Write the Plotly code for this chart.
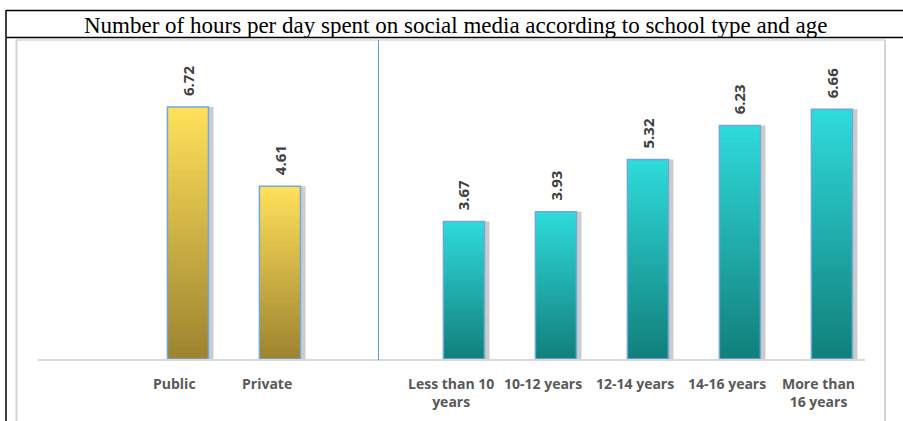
import plotly.graph_objects as go

title = "Number of hours per day spent on social media according to school type and age"
categories = ["Public", "Private", " ", "Less than 10<br>years", "10-12 years",
              "12-14 years", "14-16 years", "More than<br>16 years"]
values = [6.72, 4.61, None, 3.67, 3.93, 5.32, 6.23, 6.66]
groups = ["school", "school", None, "age", "age", "age", "age", "age"]

W, H = 903, 421
PL, PR, PT, PB = 38, 865, 40, 359   # plot area in page pixels
L, T = PL, PT
R = W - PR
B = H - PB
PW, PH = PR - PL, PB - PT

def px(x):
    return (x - PL) / PW

def py(y):
    return (PB - y) / PH

top_col = {"school": (255, 224, 90), "age": (46, 218, 218)}
bot_col = {"school": (158, 132, 48), "age": (18, 128, 124)}

def mix(a, b, t):
    return "rgb(%d,%d,%d)" % tuple(round(a[i] + (b[i] - a[i]) * t) for i in range(3))

fig = go.Figure()
bw = 0.446

# shadow
fig.add_trace(go.Bar(x=categories, y=values, width=bw, offset=-bw / 2 + 0.055,
                     marker=dict(color="rgba(100,100,100,0.33)", line=dict(width=0)),
                     hoverinfo="skip", showlegend=False))

N = 40
for k in range(N):
    t = k / (N - 1)
    ys = [None if v is None else v * (N - k) / N for v in values]
    cols = [mix(top_col[g], bot_col[g], t) if g else "white" for g in groups]
    fig.add_trace(go.Bar(x=categories, y=ys, width=bw,
                         marker=dict(color=cols, line=dict(width=0)),
                         hoverinfo="skip", showlegend=False))

fig.add_trace(go.Bar(x=categories, y=values, width=bw,
                     marker=dict(color="rgba(0,0,0,0)", line=dict(color="#6FA8DC", width=1.5)),
                     showlegend=False))

for c, v in zip(categories, values):
    if v is None:
        continue
    fig.add_annotation(x=c, y=v, text="<b>%.2f</b>" % v, showarrow=False, textangle=-90,
                       yanchor="bottom", xanchor="center", yshift=9,
                       font=dict(family="Open Sans", size=15, color="#404040"))
    # category labels (sit slightly left of bar centres, as in the original)
    fig.add_annotation(x=c, y=0, text="<b>%s</b>" % c, showarrow=False, align="center",
                       yanchor="top", xanchor="center", yshift=-13, xshift=-13,
                       font=dict(family="Open Sans", size=14, color="#595959"))

fig.add_annotation(x=px(455), y=py(25), xref="paper", yref="paper", text=title,
                   showarrow=False, xanchor="center", yanchor="middle",
                   font=dict(family="Liberation Serif", size=23, color="black"))

shapes = [
    dict(type="line", xref="paper", yref="paper", x0=px(6), x1=px(905), y0=py(10.5), y1=py(10.5),
         line=dict(color="black", width=1.5)),
    dict(type="line", xref="paper", yref="paper", x0=px(6), x1=px(905), y0=py(37.5), y1=py(37.5),
         line=dict(color="black", width=1.5)),
    dict(type="line", xref="paper", yref="paper", x0=px(6), x1=px(6), y0=py(10), y1=py(425),
         line=dict(color="black", width=1.5)),
    dict(type="line", xref="paper", yref="paper", x0=px(16.5), x1=px(16.5), y0=py(40), y1=py(425),
         line=dict(color="#D4D4D4", width=2)),
    dict(type="line", xref="paper", yref="paper", x0=px(885), x1=px(885), y0=py(40), y1=py(425),
         line=dict(color="#D4D4D4", width=2)),
    dict(type="line", xref="paper", yref="paper", x0=px(16), x1=px(885), y0=py(40), y1=py(40),
         line=dict(color="#D9D9D9", width=1.5)),
    dict(type="line", xref="paper", yref="paper", x0=px(378.5), x1=px(378.5), y0=py(40), y1=py(360),
         line=dict(color="#5B9BD5", width=1)),
]

fig.update_layout(
    width=W, height=H, margin=dict(l=L, r=R, t=T, b=B),
    barmode="overlay", bargap=0.55,
    paper_bgcolor="white", plot_bgcolor="white",
    shapes=shapes,
    xaxis=dict(type="category", categoryorder="array", categoryarray=categories,
               range=[-1.63, 7.36], showgrid=False, zeroline=False,
               showline=True, linecolor="#D9D9D9", linewidth=2, ticks="",
               showticklabels=False),
    yaxis=dict(range=[0, 8.51], visible=False, showgrid=False, zeroline=False),
)

fig.write_html("out.html", config={"displayModeBar": False},
               post_script="document.body.style.margin='0';document.body.style.overflow='hidden';")
